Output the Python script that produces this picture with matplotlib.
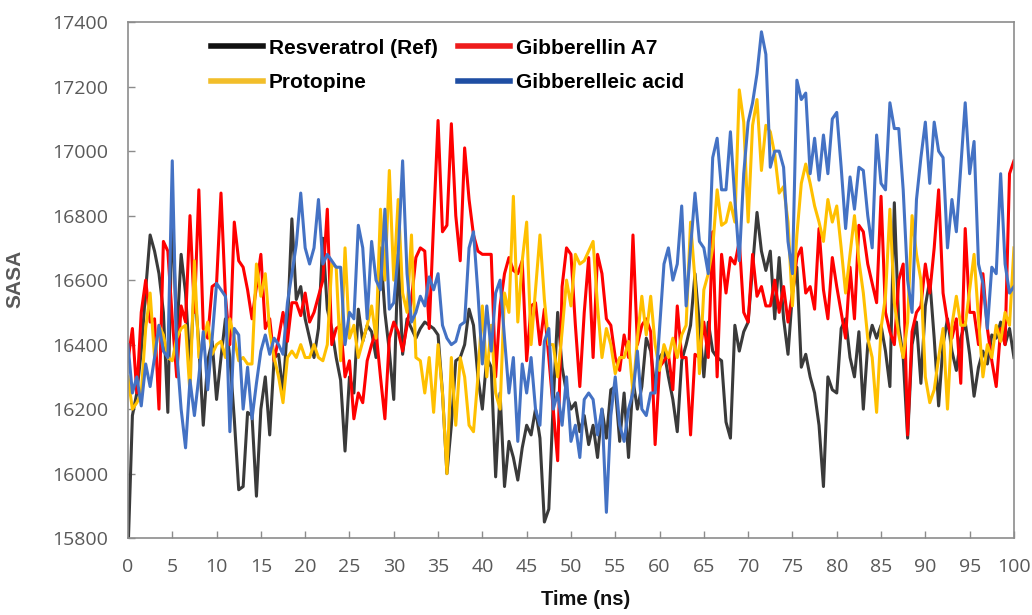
import numpy as np
import matplotlib
matplotlib.use("Agg")
import matplotlib.pyplot as plt
from matplotlib.lines import Line2D

# sampling grid of the trajectories (ns)
time_ns = np.arange(0, 100.5, 0.5)

resveratrol = [
    15750, 16180, 16250, 16380, 16570, 16740, 16690, 16620, 16500, 16190, 16830,
    16420, 16680, 16560, 16330, 16580, 16400, 16150, 16350, 16410, 16230,
    16360, 16480, 16360, 16170, 15950, 15960, 16190, 16180, 15930, 16200,
    16300, 16120, 16360, 16370, 16250, 16460, 16790, 16540, 16580, 16480,
    16420, 16360, 16450, 16730, 16510, 16450, 16360, 16290, 16070, 16300,
    16250, 16510, 16410, 16460, 16440, 16360, 16700, 16500, 16380, 16230,
    16680, 16370, 16480, 16450, 16420, 16450, 16470, 16460, 16450, 16430,
    16250, 16000, 16150, 16350, 16360, 16400, 16510, 16460, 16300, 16200,
    16360, 16330, 15990, 16250, 15960, 16100, 16050, 15980, 16080, 16150,
    16120, 16200, 16110, 15850, 15890, 16220, 16500, 16330, 16250, 16200,
    16220, 16130, 16180, 16090, 16150, 16050, 16200, 16110, 16260, 16270,
    16100, 16250, 16050, 16290, 16200, 16270, 16420, 16380, 16260, 16360,
    16380, 16300, 16230, 16130, 16350, 16400, 16460, 16620, 16460, 16300,
    16470, 16380, 16360, 16350, 16160, 16110, 16460, 16380, 16440, 16470,
    16640, 16810, 16690, 16630, 16690, 16480, 16670, 16480, 16370, 16560,
    16640, 16330, 16370, 16300, 16250, 16150, 15960, 16300, 16260, 16250,
    16450, 16480, 16360, 16300, 16440, 16200, 16400, 16460, 16420, 16460,
    16380, 16270, 16840, 16460, 16360, 16110, 16400, 16470, 16280, 16520,
    16600, 16420, 16210, 16400, 16480, 16380, 16320, 16420, 16470, 16370,
    16240, 16330, 16380, 16340, 16430, 16420, 16470, 16400, 16450, 16360,
]

gibberellin_a7 = [
    16350, 16450, 16250, 16500, 16600, 16470, 16480, 16200, 16720, 16690, 16480,
    16300, 16520, 16470, 16800, 16500, 16880, 16450, 16420, 16580, 16590,
    16870, 16550, 16400, 16780, 16660, 16640, 16570, 16480, 16580, 16680,
    16450, 16480, 16350, 16420, 16500, 16410, 16530, 16530, 16490, 16560,
    16470, 16500, 16550, 16600, 16820, 16400, 16450, 16460, 16300, 16350,
    16170, 16250, 16220, 16350, 16400, 16440, 16300, 16170, 16420, 16470,
    16440, 16380, 16460, 16540, 16670, 16700, 16690, 16450, 16780, 17095,
    16750, 16770, 17085, 16800, 16660, 17010, 16850, 16740, 16690, 16680,
    16680, 16680, 16300, 16520, 16620, 16670, 16630, 16620, 16660, 16350,
    16520, 16530, 16400, 16510, 16360, 16200, 16040, 16580, 16700, 16680,
    16460, 16270, 16500, 16670, 16360, 16680, 16620, 16480, 16460, 16360,
    16320, 16430, 16360, 16740, 16400, 16460, 16480, 16440, 16090, 16330,
    16350, 16370, 16260, 16520, 16360, 16360, 16120, 16370, 16360, 16470,
    16360, 16750, 16300, 16680, 16560, 16670, 16650, 16720, 16500, 16470,
    16680, 16550, 16580, 16520, 16520, 16600, 16500, 16580, 16470, 16560,
    16670, 16700, 16560, 16580, 16510, 16760, 16570, 16480, 16670, 16580,
    16500, 16420, 16640, 16480, 16770, 16750, 16650, 16590, 16530, 16860,
    16500, 16440, 16400, 16600, 16650, 16120, 16440, 16500, 16520, 16650,
    16560, 16700, 16880, 16560, 16470, 16420, 16480, 16280, 16760, 16500,
    16500, 16400, 16620, 16450, 16350, 16270, 16450, 16400, 16930, 16970,
]

protopine = [
    16300, 16200, 16220, 16250, 16450, 16560, 16360, 16460, 16430, 16360, 16350,
    16420, 16450, 16460, 16250, 16660, 16360, 16410, 16470, 16370, 16400,
    16410, 16360, 16480, 16420, 16350, 16360, 16340, 16340, 16650, 16550,
    16620, 16440, 16360, 16300, 16220, 16360, 16380, 16360, 16400, 16360,
    16360, 16400, 16360, 16350, 16400, 16650, 16640, 16350, 16700, 16420,
    16460, 16360, 16410, 16460, 16520, 16420, 16820, 16600, 16940, 16600,
    16850, 16560, 16500, 16740, 16360, 16350, 16250, 16360, 16190, 16400,
    16250, 16000, 16360, 16150, 16360, 16300, 16150, 16130, 16300, 16520,
    16300, 16460, 16250, 16200, 16560, 16500, 16860, 16470, 16660, 16780,
    16400, 16570, 16740, 16540, 16400, 16400, 16300, 16440, 16600, 16520,
    16680, 16650, 16660, 16690, 16720, 16520, 16360, 16450, 16400, 16310,
    16360, 16360, 16410, 16250, 16420, 16550, 16430, 16550, 16400, 16320,
    16400, 16360, 16420, 16360, 16430, 16460, 16780, 16600, 16310, 16570,
    16620, 16700, 16880, 16770, 16780, 16840, 16780, 17190, 17090, 16780,
    17080, 17160, 16940, 17080, 17060, 16990, 16870, 16890, 16780, 16520,
    16740, 16900, 16960, 16900, 16830, 16780, 16720, 16850, 16780, 16830,
    16700, 16560, 16680, 16800, 16660, 16560, 16420, 16360, 16190, 16450,
    16550, 16820, 16530, 16430, 16360, 16470, 16800, 16680, 16600, 16300,
    16220, 16260, 16360, 16450, 16200, 16460, 16550, 16460, 16460, 16570,
    16680, 16480, 16300, 16400, 16360, 16460, 16410, 16500, 16460, 16700,
]

gibberelleic_acid = [
    16400, 16250, 16300, 16210, 16340, 16270, 16360, 16460, 16380, 16360, 16970,
    16380, 16200, 16080, 16290, 16180, 16300, 16440, 16260, 16420, 16590,
    16570, 16550, 16130, 16450, 16430, 16200, 16330, 16170, 16280, 16380,
    16430, 16370, 16420, 16400, 16370, 16530, 16620, 16710, 16870, 16700,
    16650, 16700, 16850, 16650, 16680, 16660, 16640, 16640, 16400, 16500,
    16480, 16770, 16700, 16480, 16720, 16600, 16570, 16820, 16510, 16530,
    16680, 16970, 16620, 16470, 16500, 16550, 16520, 16610, 16570, 16620,
    16460, 16420, 16400, 16410, 16460, 16470, 16700, 16750, 16560, 16340,
    16520, 16380, 16560, 16600, 16420, 16250, 16360, 16100, 16340, 16250,
    16360, 16200, 16150, 16410, 16450, 16200, 16250, 16150, 16300, 16100,
    16150, 16050, 16230, 16250, 16230, 16120, 16200, 15880, 16180, 16300,
    16150, 16100, 16200, 16250, 16380, 16200, 16180, 16250, 16250, 16450,
    16650, 16700, 16600, 16650, 16830, 16520, 16700, 16870, 16720, 16700,
    16620, 16980, 17040, 16880, 16880, 17060, 16850, 16660, 16930, 17090,
    17150, 17240, 17370, 17300, 16950, 17000, 17000, 16950, 16720, 16620,
    17220, 17160, 17180, 16930, 17040, 16910, 17050, 16930, 17100, 17120,
    16950, 16760, 16920, 16820, 16950, 16940, 16800, 16700, 17050, 16900,
    16880, 17150, 17070, 17070, 16880, 16600, 16500, 16850, 16980, 17090,
    16900, 17090, 17000, 16980, 16700, 16850, 16750, 16950, 17150, 16930,
    17030, 16650, 16590, 16450, 16640, 16620, 16930, 16650, 16560, 16580,
]

series = [
    ("Resveratrol (Ref)", resveratrol, "#3a3a3a", "#111111"),
    ("Gibberellin A7", gibberellin_a7, "#ff0000", "#ee1c1c"),
    ("Protopine", protopine, "#ffc000", "#f2be2a"),
    ("Gibberelleic acid", gibberelleic_acid, "#4472c4", "#1f4ea3"),
]

fig = plt.figure(figsize=(10.32, 6.15), dpi=100)
ax = fig.add_axes([0.124, 0.125, 0.8585, 0.839])

for _, values, color, _ in series:
    ax.plot(time_ns, values, color=color, linewidth=2.2, solid_joinstyle="round")

ax.set_xlim(0, 100)
ax.set_ylim(15800, 17400)
ax.set_xticks(np.arange(0, 101, 5))
ax.set_yticks(np.arange(15800, 17401, 200))

for spine in ax.spines.values():
    spine.set_color("#8c8c8c")
    spine.set_linewidth(1.2)

ax.tick_params(axis="both", direction="in", length=5, width=1, color="#8c8c8c",
               labelsize=14, labelcolor="#595959", pad=14)
for lab in ax.get_xticklabels() + ax.get_yticklabels():
    lab.set_family(["Open Sans", "DejaVu Sans"])

ax.set_xlabel("Time (ns)", fontsize=14.5, fontweight="bold", color="#111111",
              family="Liberation Sans")
ax.set_ylabel("SASA", fontsize=15, fontweight="bold", color="#595959",
              family="Liberation Sans")
ax.xaxis.set_label_coords(0.516, -0.1)
ax.yaxis.set_label_coords(-0.117, 0.502)

# legend: column 1 = Resveratrol/Protopine, column 2 = the two gibberellins
order = [0, 2, 1, 3]
handles = [Line2D([0], [0], color=series[i][3], linewidth=4) for i in order]
labels = [series[i][0] for i in order]
leg = ax.legend(handles, labels, loc="upper left", bbox_to_anchor=(0.094, 0.968),
                ncol=2, frameon=False, handlelength=2.5, handletextpad=0.25,
                columnspacing=1.0, labelspacing=0.75, borderpad=0, borderaxespad=0,
                prop={"family": "Liberation Sans", "weight": "bold", "size": 15})

fig.savefig("out.png", dpi=100, facecolor="white")
